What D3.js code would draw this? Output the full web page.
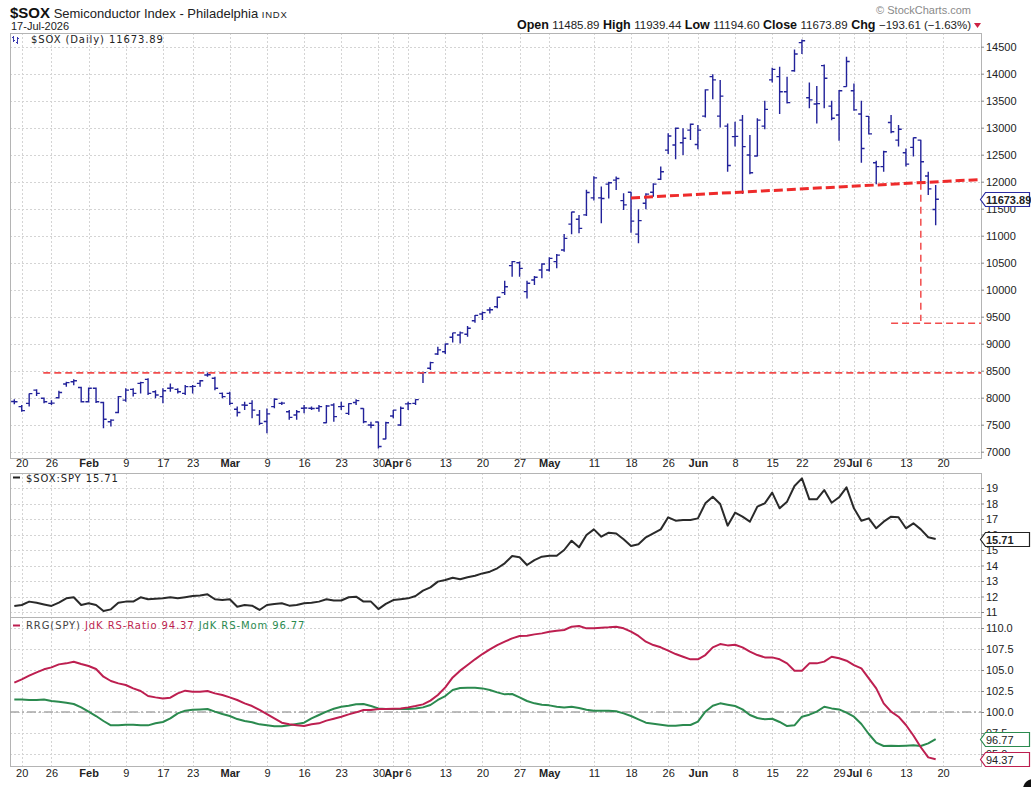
<!DOCTYPE html>
<meta charset="utf-8">
<script src="https://d3js.org/d3.v7.min.js"></script>
<style>
  body { margin: 0; background: #fff; }
  text { font-family: "Liberation Sans", Arial, sans-serif; fill: #222; }
  .leg { font-family: "DejaVu Sans", Verdana, sans-serif; font-size: 10px; letter-spacing: 0.9px; }
  .axis path.domain { display: none; }
  .axis line { stroke: #888; }
  .axis text { font-size: 11px; fill: #222; }
</style>
<body>
<div id="chart"></div>
<script>
// trading sessions shown (2026)
var tradingDays = [
  "01-16","01-20","01-21","01-22","01-23","01-26","01-27","01-28","01-29","01-30",
  "02-02","02-03","02-04","02-05","02-06","02-09","02-10","02-11","02-12","02-13",
  "02-17","02-18","02-19","02-20","02-23","02-24","02-25","02-26","02-27",
  "03-02","03-03","03-04","03-05","03-06","03-09","03-10","03-11","03-12","03-13",
  "03-16","03-17","03-18","03-19","03-20","03-23","03-24","03-25","03-26","03-27","03-30","03-31",
  "04-01","04-02","04-06","04-07","04-08","04-09","04-10","04-13","04-14","04-15","04-16","04-17",
  "04-20","04-21","04-22","04-23","04-24","04-27","04-28","04-29","04-30",
  "05-01","05-04","05-05","05-06","05-07","05-08","05-11","05-12","05-13","05-14","05-15",
  "05-18","05-19","05-20","05-21","05-22","05-26","05-27","05-28","05-29",
  "06-01","06-02","06-03","06-04","06-05","06-08","06-09","06-10","06-11","06-12",
  "06-15","06-16","06-17","06-18","06-22","06-23","06-24","06-25","06-26","06-29","06-30",
  "07-01","07-02","07-06","07-07","07-08","07-09","07-10","07-13","07-14","07-15","07-16","07-17"
];

// $SOX daily OHLC
var opens = [7930,7835,7895,8140,7990,7895,8000,8255,8295,8190,
  7925,8175,7910,7555,7725,7955,8155,8265,8340,8110,
  8020,8175,8155,8080,8205,8265,8420,8360,8080,8080,
  7785,7865,7895,7680,7560,7835,7895,7740,7680,7805,
  7805,7805,7535,7865,7835,7710,7910,7800,7495,7550,
  7235,7660,7495,7885,7895,8450,8545,8810,8850,9120,
  9160,9175,9425,9550,9625,9685,9945,10445,10500,9965,
  10180,10365,10365,10520,10735,11215,11305,11385,11700,11700,
  11955,12030,11650,11805,11030,11600,11805,12045,12585,12680,
  12720,12955,12690,13215,13945,13215,13030,12835,13140,12495,
  12475,13030,13885,13945,13665,14055,14575,13555,13440,14150,
  13400,13235,13760,13685,13255,13210,12350,12280,13095,12770,
  12535,12635,12770,12105,11485.89];
var highs = [7970,7865,8080,8155,8005,7955,8130,8295,8340,8205,
  8190,8190,7925,7600,8030,8175,8175,8295,8360,8140,
  8175,8265,8175,8235,8235,8330,8465,8390,8095,8110,
  7835,7925,7955,7770,7800,7990,7925,7770,7770,7865,
  7835,7865,7865,7895,7925,7895,7970,7805,7555,7555,
  7555,7770,7835,7925,7970,8480,8665,8945,9005,9205,
  9225,9330,9530,9595,9675,9870,10165,10530,10520,10165,
  10255,10490,10600,10660,11030,11445,11385,11850,12100,11910,
  12000,12095,11785,11815,11490,11785,11970,12280,12895,13005,
  12990,13080,13050,13710,13990,13885,13080,13110,13235,12865,
  13175,13500,14110,14130,13945,14450,14635,13835,13770,14170,
  13500,13700,14315,13820,13500,13215,12390,12575,13235,13050,
  12615,12820,12775,12185,11939.44];
var lows = [7880,7740,7835,8030,7895,7865,7990,8205,8230,7910,
  7910,7900,7435,7465,7710,7925,8020,8080,8050,7990,
  7895,8110,8080,8050,8080,8205,8390,8140,7990,7865,
  7650,7770,7620,7495,7340,7805,7865,7590,7590,7710,
  7770,7740,7525,7555,7770,7680,7865,7525,7435,7060,
  7230,7620,7475,7770,7865,8270,8515,8790,8810,9020,
  9005,9130,9390,9440,9560,9655,9900,10240,10240,9835,
  10085,10210,10335,10395,10705,11025,11045,11365,11650,11230,
  11690,11845,11475,11055,10860,11490,11720,12030,12515,12415,
  12495,12770,12600,13190,13525,13005,12185,12650,11770,12140,
  12465,12970,13835,13255,13450,14035,14365,13360,13080,13360,
  13140,12760,13760,13315,12350,12875,11955,12185,12895,12650,
  12280,12465,11970,11755,11194.60];
var closes = [7925,7760,8075,8080,7925,7900,8095,8280,8315,7925,
  8175,7925,7600,7585,8020,8140,8080,8280,8080,8050,
  8130,8180,8110,8205,8210,8315,8425,8175,8020,7895,
  7725,7860,7770,7525,7700,7970,7900,7635,7740,7810,
  7800,7835,7845,7650,7840,7890,7945,7555,7490,7095,
  7535,7770,7805,7890,7965,8465,8650,8885,8995,9200,
  9200,9285,9525,9575,9630,9860,10055,10520,10395,10120,
  10230,10475,10580,10640,10950,11440,11135,11800,12070,11690,
  11980,12060,11570,11270,11280,11770,11955,12185,12845,12990,
  12805,13065,12955,13700,13885,13585,12300,12840,12650,12165,
  13140,13340,14080,13665,13465,14365,14610,13515,13445,13915,
  13175,13685,14225,13330,12615,12885,12280,12555,12925,12970,
  12325,12815,12370,11867.5,11673.89];

// $SOX:SPY ratio
var soxSpy = [11.38,11.45,11.67,11.60,11.49,11.39,11.60,11.88,11.95,11.45,
  11.56,11.45,11.06,11.17,11.60,11.67,11.67,11.95,11.82,11.86,
  11.88,11.95,11.88,11.95,12.03,12.07,12.14,11.82,11.77,11.82,
  11.34,11.45,11.41,11.13,11.45,11.52,11.56,11.41,11.45,11.56,
  11.60,11.67,11.82,11.74,11.74,11.95,11.99,11.67,11.67,11.19,
  11.52,11.77,11.82,11.88,12.03,12.38,12.59,12.96,13.06,13.21,
  13.11,13.24,13.34,13.49,13.60,13.82,14.14,14.61,14.53,14.03,
  14.35,14.57,14.63,14.63,15.00,15.60,15.17,15.97,16.33,15.86,
  16.12,16.07,15.69,15.26,15.37,15.82,16.07,16.33,17.11,16.89,
  16.94,16.94,17.04,18.01,18.44,17.97,16.57,17.41,17.15,16.83,
  17.80,18.01,18.70,17.69,18.12,19.13,19.62,18.27,18.27,18.87,
  18.05,18.40,19.04,17.69,16.89,17.04,16.40,16.83,17.15,17.11,
  16.40,16.72,16.33,15.82,15.71];

// RRG vs SPY
var rsRatio = [103.49,103.89,104.32,104.72,105.08,105.31,105.67,105.79,105.99,105.71,
  105.47,105.12,104.2,103.69,103.41,103.21,102.81,102.5,101.9,101.74,
  101.62,101.7,102.22,102.54,102.42,102.42,102.5,102.22,102.02,101.74,
  101.43,101.03,100.71,100.24,99.76,99.24,98.73,98.53,98.41,98.33,
  98.53,98.65,98.97,99.2,99.44,99.72,99.96,100.24,100.24,100.35,
  100.35,100.39,100.43,100.55,100.71,100.91,101.35,102.02,102.93,104.12,
  104.92,105.59,106.27,106.9,107.46,107.97,108.37,108.77,109.05,109.08,
  109.24,109.36,109.56,109.68,109.76,110.16,110.24,109.96,109.96,110.04,
  110.08,110.16,109.96,109.56,109.05,108.37,107.97,107.7,107.3,106.9,
  106.58,106.27,106.27,106.78,107.7,108.09,107.93,108.01,107.7,107.18,
  106.78,106.5,106.5,106.27,105.79,104.92,104.92,105.79,105.79,106.0,
  106.58,106.39,106.11,105.59,105.2,104.0,102.81,101.03,100.04,99.44,
  98.45,97.2,95.8,94.6,94.37];
var rsMom = [101.5,101.5,101.43,101.43,101.5,101.31,101.23,101.11,100.95,100.55,
  100.04,99.52,98.93,98.41,98.41,98.49,98.49,98.41,98.41,98.65,
  98.81,99.24,99.84,100.16,100.27,100.31,100.35,100.04,99.76,99.52,
  99.16,98.93,98.77,98.53,98.41,98.29,98.29,98.41,98.57,98.73,
  99.24,99.64,100.04,100.39,100.63,100.75,100.91,100.95,100.71,100.43,
  100.35,100.35,100.35,100.35,100.43,100.55,100.83,101.43,101.9,102.62,
  102.85,102.89,102.89,102.81,102.62,102.34,102.1,102.14,101.74,101.31,
  101.03,100.87,100.79,100.63,100.55,100.63,100.47,100.27,100.16,100.16,
  100.16,100.08,99.84,99.52,99.13,98.73,98.61,98.49,98.37,98.37,
  98.45,98.45,98.85,100.04,100.75,101.03,100.87,100.71,100.31,99.64,
  99.28,99.13,99.2,98.81,98.33,98.41,99.44,99.68,100.04,100.63,
  100.43,100.31,99.92,99.44,98.57,97.38,96.35,95.95,95.99,95.95,
  95.99,96.03,95.95,96.27,96.77];

// x axis labels
var tickDays = ["01-20","01-26","02-02","02-09","02-17","02-23","03-02","03-09","03-16","03-23","03-30",
  "04-01","04-06","04-13","04-20","04-27","05-01","05-11","05-18","05-26","06-01","06-08","06-15",
  "06-22","06-29","07-01","07-06","07-13","07-20"];
var tickLabels = ["20","26","Feb","9","17","23","Mar","9","16","23","30","Apr","6","13","20","27",
  "May","11","18","26","Jun","8","15","22","29","Jul","6","13","20"];
var monthLabels = ["Feb","Mar","Apr","May","Jun","Jul"];

// y axis ticks
var priceTicks = [7000,7500,8000,8500,9000,9500,10000,10500,11000,11500,12000,12500,13000,13500,14000,14500];
var ratioTicks = [11,12,13,14,15,16,17,18,19];
var rrgTicks = [95,97.5,100,102.5,105,107.5,110];

// drawn annotations (price space)
var supportLevel = 8460, supportFromIdx = 3.9;
var neckFrom = "05-18", neckFromValue = 11700, neckTo = "07-17", neckToValue = 11997;
var targetDay = "07-15", targetLow = 9420, targetLevel = 9380, targetFrom = "07-09";

var width = 1031, height = 787, left = 10, right = 981;
var n = tradingDays.length;

var svg = d3.select("#chart").append("svg")
    .attr("width", width).attr("height", height);

var x = d3.scaleLinear().domain([-0.58, 130.1]).range([left, right]);
function dayIndex(d) { var j = tradingDays.indexOf(d); return j < 0 ? n : j; }
var tickIdx = tickDays.map(dayIndex);

var yPrice = d3.scaleLinear().domain([7000, 14500]).range([451.7, 46.7]);
var yRatio = d3.scaleLinear().domain([11, 19]).range([612, 488]);
var yRrg = d3.scaleLinear().domain([95, 110]).range([754, 628]);

var panels = [
  { id: "p1", top: 33, bottom: 458, y: yPrice, ticks: priceTicks, fmt: d3.format("d") },
  { id: "p2", top: 473, bottom: 617, y: yRatio, ticks: ratioTicks, fmt: d3.format("d") },
  { id: "p3", top: 617, bottom: 766, y: yRrg, ticks: rrgTicks, fmt: d3.format(".1f") }
];

panels.forEach(function (p) {
  svg.append("clipPath").attr("id", "clip-" + p.id)
    .append("rect").attr("x", left).attr("y", p.top).attr("width", right - left).attr("height", p.bottom - p.top);
  var g = svg.append("g");
  // grid
  g.selectAll(".hg").data(p.ticks).enter().append("line")
    .attr("x1", left).attr("x2", right)
    .attr("y1", function (d) { return Math.round(p.y(d)) + 0.5; })
    .attr("y2", function (d) { return Math.round(p.y(d)) + 0.5; })
    .attr("stroke", "#d4d4d4").attr("stroke-dasharray", "2,2");
  g.selectAll(".vg").data(tickIdx).enter().append("line")
    .attr("y1", p.top).attr("y2", p.bottom)
    .attr("x1", function (d) { return Math.round(x(d)) + 0.5; })
    .attr("x2", function (d) { return Math.round(x(d)) + 0.5; })
    .attr("stroke", "#d4d4d4").attr("stroke-dasharray", "2,2");
  // border
  g.append("rect").attr("x", left + 0.5).attr("y", p.top + 0.5)
    .attr("width", right - left).attr("height", p.bottom - p.top)
    .attr("fill", "none").attr("stroke", "#b4b4b4");
  // right axis
  svg.append("g").attr("class", "axis").attr("transform", "translate(" + right + ",0)")
    .call(d3.axisRight(p.y).tickValues(p.ticks).tickSize(3).tickPadding(2).tickFormat(p.fmt));
  p.g = g;
});

// x axes (under price panel and under RRG panel)
function xAxis(yPos, pad) {
  var ax = svg.append("g").attr("class", "axis").attr("transform", "translate(0," + yPos + ")")
    .call(d3.axisBottom(x).tickValues(tickIdx).tickSize(0).tickPadding(pad)
      .tickFormat(function (d, k) { return tickLabels[k]; }));
  ax.selectAll("text")
    .style("font-weight", function (d, k) { return monthLabels.indexOf(tickLabels[k]) >= 0 ? "bold" : "normal"; });
}
xAxis(458, 1);
xAxis(766, 3);

// ---- price bars
var ohlc = tradingDays.map(function (d, j) {
  return { j: j, o: opens[j], h: highs[j], l: lows[j], c: closes[j] };
});
var priceG = svg.append("g").attr("clip-path", "url(#clip-p1)");
priceG.selectAll(".bar").data(ohlc).enter().append("path")
  .attr("d", function (d) {
    var cx = x(d.j);
    return "M" + cx + "," + yPrice(d.h) + "V" + yPrice(d.l) +
      "M" + (cx - 3.2) + "," + yPrice(d.o) + "H" + cx +
      "M" + cx + "," + yPrice(d.c) + "H" + (cx + 3.2);
  })
  .attr("fill", "none").attr("stroke", "#22229a").attr("stroke-width", 1.4);

// annotations
priceG.append("line")
  .attr("x1", x(supportFromIdx)).attr("x2", right)
  .attr("y1", yPrice(supportLevel)).attr("y2", yPrice(supportLevel))
  .attr("stroke", "#f24c4c").attr("stroke-width", 1.6).attr("stroke-dasharray", "7,4");

var neck = d3.scaleLinear().domain([dayIndex(neckFrom), dayIndex(neckTo)]).range([neckFromValue, neckToValue]);
var neckEnd = x.domain()[1];
priceG.append("line")
  .attr("x1", x(dayIndex(neckFrom))).attr("y1", yPrice(neck(dayIndex(neckFrom))))
  .attr("x2", x(neckEnd)).attr("y2", yPrice(neck(neckEnd)))
  .attr("stroke", "#ee2b2b").attr("stroke-width", 3).attr("stroke-dasharray", "9,4");

priceG.append("line")
  .attr("x1", x(dayIndex(targetDay))).attr("x2", x(dayIndex(targetDay)))
  .attr("y1", yPrice(neck(dayIndex(targetDay)))).attr("y2", yPrice(targetLow))
  .attr("stroke", "#f24c4c").attr("stroke-width", 1.5).attr("stroke-dasharray", "7,5");
priceG.append("line")
  .attr("x1", x(dayIndex(targetFrom))).attr("x2", right)
  .attr("y1", yPrice(targetLevel)).attr("y2", yPrice(targetLevel))
  .attr("stroke", "#f24c4c").attr("stroke-width", 1.6).attr("stroke-dasharray", "7,4");

// ---- ratio panel
var ratioLine = d3.line().x(function (d, j) { return x(j); }).y(function (d) { return yRatio(d); });
svg.append("g").attr("clip-path", "url(#clip-p2)").append("path")
  .attr("d", ratioLine(soxSpy)).attr("fill", "none")
  .attr("stroke", "#2a2a2a").attr("stroke-width", 2).attr("stroke-linejoin", "round");

// ---- RRG panel
var rrgG = svg.append("g").attr("clip-path", "url(#clip-p3)");
rrgG.append("line").attr("x1", left).attr("x2", right)
  .attr("y1", yRrg(100)).attr("y2", yRrg(100))
  .attr("stroke", "#a8a8a8").attr("stroke-width", 1.3).attr("stroke-dasharray", "9,3,2,3");
var rrgLine = d3.line().x(function (d, j) { return x(j); }).y(function (d) { return yRrg(d); });
rrgG.append("path").attr("d", rrgLine(rsMom)).attr("fill", "none")
  .attr("stroke", "#2b8a4f").attr("stroke-width", 2).attr("stroke-linejoin", "round");
rrgG.append("path").attr("d", rrgLine(rsRatio)).attr("fill", "none")
  .attr("stroke", "#bd1f50").attr("stroke-width", 2).attr("stroke-linejoin", "round");

// ---- value badges on the right axis
function badge(yPos, label, stroke, bold) {
  var g = svg.append("g").attr("transform", "translate(" + (right - 1) + "," + Math.round(yPos) + ")");
  g.append("path").attr("d", "M0.5,0.5 L5.5,-6.5 H49.5 V7.5 H5.5 Z")
    .attr("fill", "#fff").attr("stroke", stroke).attr("stroke-width", 1.2);
  g.append("text").attr("x", 6).attr("y", 5)
    .style("font-size", "11px").style("font-weight", bold ? "bold" : "normal").text(label);
}
var last = n - 1;
badge(yPrice(closes[last]), d3.format(".2f")(closes[last]), "#2a2aa0", true);
badge(yRatio(soxSpy[last]), d3.format(".2f")(soxSpy[last]), "#222", true);
badge(yRrg(rsMom[last]), d3.format(".2f")(rsMom[last]), "#2b8a4f", false);
badge(yRrg(rsRatio[last]), d3.format(".2f")(rsRatio[last]), "#bd1f50", false);

// ---- legends inside panels
var icon = svg.append("g").attr("stroke", "#3a3ab0").attr("stroke-width", 1);
icon.append("path").attr("d", "M13.5,36 V42 M12,37.5 H13.5 M13.5,40.5 H15 M17.5,37 V44 M16,42.5 H17.5 M17.5,38.5 H19");
svg.append("text").attr("class", "leg").attr("x", 31).attr("y", 43)
  .text("$SOX (Daily) " + d3.format(".2f")(closes[last]));

svg.append("line").attr("x1", 13).attr("x2", 20).attr("y1", 477.5).attr("y2", 477.5)
  .attr("stroke", "#222").attr("stroke-width", 2);
svg.append("text").attr("class", "leg").attr("x", 26).attr("y", 482)
  .text("$SOX:SPY " + d3.format(".2f")(soxSpy[last]));

svg.append("line").attr("x1", 13).attr("x2", 20).attr("y1", 625.5).attr("y2", 625.5)
  .attr("stroke", "#bd1f50").attr("stroke-width", 2);
var rl = svg.append("text").attr("class", "leg").attr("x", 26).attr("y", 629);
rl.append("tspan").style("fill", "#444").text("RRG(SPY) ");
rl.append("tspan").style("fill", "#bd1f50").text("JdK RS-Ratio " + d3.format(".2f")(rsRatio[last]) + " ");
rl.append("tspan").style("fill", "#2b8a4f").text("JdK RS-Mom " + d3.format(".2f")(rsMom[last]));

// ---- header
var t1 = svg.append("text").attr("x", 10).attr("y", 18);
t1.append("tspan").style("font-weight", "bold").style("font-size", "15px").style("fill", "#111").text("$SOX");
t1.append("tspan").style("font-size", "13px").text(" Semiconductor Index - Philadelphia ");
t1.append("tspan").style("font-size", "9.5px").style("letter-spacing", "0.8px").text("INDX");
svg.append("text").attr("x", 11).attr("y", 30).style("font-size", "11px").text("17-Jul-2026");

svg.append("text").attr("x", 971).attr("y", 14).attr("text-anchor", "end")
  .style("font-size", "11px").style("fill", "#8a8a8a").text("\u00a9 StockCharts.com");

var chg = closes[last] - closes[last - 1];
var hdr = [
  ["Open", d3.format(".2f")(opens[last])],
  ["High", d3.format(".2f")(highs[last])],
  ["Low", d3.format(".2f")(lows[last])],
  ["Close", d3.format(".2f")(closes[last])],
  ["Chg", d3.format(".2f")(chg) + " (" + d3.format(".2f")(chg / closes[last - 1] * 100) + "%)"]
];
var t2 = svg.append("text").attr("x", 971).attr("y", 29).attr("text-anchor", "end");
hdr.forEach(function (h, k) {
  t2.append("tspan").style("font-weight", "bold").style("font-size", "12.5px").style("fill", "#111")
    .text((k ? "  " : "") + h[0] + " ");
  t2.append("tspan").style("font-size", "11.5px").text(h[1]);
});
svg.append("path").attr("d", "M974,23 H981 L977.5,28 Z").attr("fill", "#cc2244");

// corner mark
svg.append("circle").attr("cx", 1033).attr("cy", 789).attr("r", 10).attr("fill", "#111");
</script>
</body>
